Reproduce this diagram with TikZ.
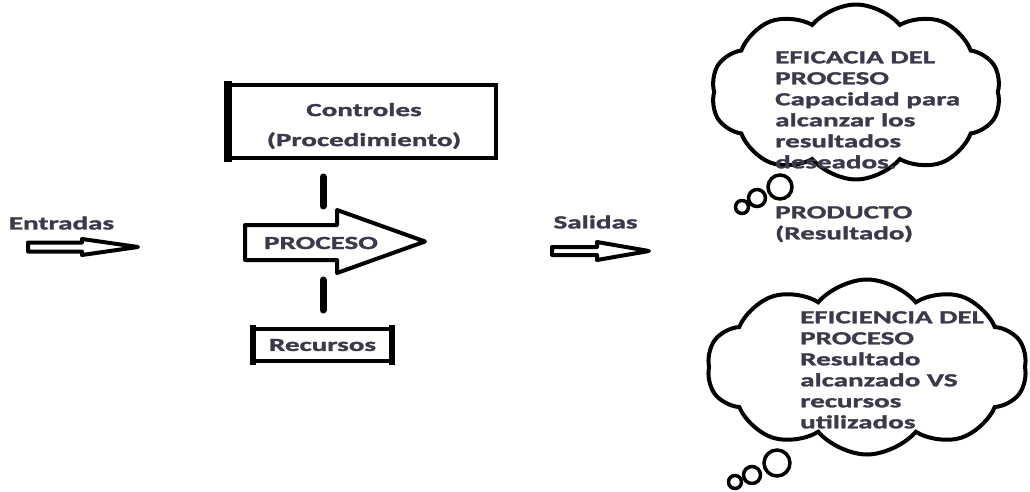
\documentclass[tikz,border=0pt]{standalone}
\usepackage{fontspec}
\newfontfamily\lblfont{Carlito}[FakeStretch=1.57, FakeBold=1.6]
\usetikzlibrary{shapes.symbols}
\definecolor{ink}{HTML}{3A3A4C}
\begin{document}
\begin{tikzpicture}[x=1pt,y=-1pt,
  lbl/.style={font=\lblfont\bfseries\fontsize{18.5}{21}\selectfont, text=ink, inner sep=0pt},
  outline/.style={draw=black, line width=4pt, line join=round, fill=white},
  framebox/.style={draw=black, line width=4pt},
  bar/.style={line width=7pt, line cap=round},
  thought/.style={cloud, cloud puffs=10, cloud puff arc=100, cloud ignores aspect, draw=black, line width=4pt, fill=white, inner sep=0pt},
  puff/.style={draw=black, line width=3.5pt, fill=white}]
\useasboundingbox[fill=white] (0,0) rectangle (1030,492);

% inputs
\node[lbl] (entradas) at (61.5,223) {Entradas};
\draw[outline] (28,242.5) -- (82,242.5) -- (82,239) -- (138,247) -- (82,255) -- (82,251.5) -- (28,251.5) -- cycle;

% controls box
\node[framebox, minimum width=268pt, minimum height=73pt] (ctrl) at (362,121.5) {};
\fill ([xshift=-2pt,yshift=2pt]ctrl.north west) rectangle ([xshift=6pt,yshift=-2pt]ctrl.south west);
\node[lbl, align=center] (ctrltext) at (364,126) {Controles\\[9pt](Procedimiento)};

% process arrow
\draw[outline] (245,225) -- (337,225) -- (337,210) -- (425,241.5) -- (337,273) -- (337,260) -- (245,260) -- cycle;
\node[lbl] (proceso) at (321,243) {PROCESO};

% control and resource bars
\draw[bar] (323,177) -- (323,206);
\draw[bar] (323,280) -- (323,310);

% resources box
\node[framebox, lbl, minimum width=137pt, minimum height=32pt] (rec) at (322.5,345) {Recursos};
\fill ([xshift=-2pt,yshift=2pt]rec.north west) rectangle ([xshift=4pt,yshift=-2pt]rec.south west);
\fill ([xshift=-4pt,yshift=2pt]rec.north east) rectangle ([xshift=2pt,yshift=-2pt]rec.south east);

% outputs
\node[lbl] (salidas) at (595.5,222) {Salidas};
\draw[outline] (552,247) -- (597,247) -- (597,242) -- (649,251) -- (597,260) -- (597,255) -- (552,255) -- cycle;

% effectiveness thought
\node[thought, minimum width=290pt, minimum height=175pt] (eficacia) at (856,92) {};
\draw[puff] (780,187) circle (12);
\draw[puff] (757,198) circle (8.5);
\draw[puff] (742,207) circle (6.5);
\node[lbl, align=left, anchor=north west] (eftext) at (775,51) {EFICACIA DEL\\PROCESO\\Capacidad para\\alcanzar los\\resultados\\deseados.};

% product
\node[lbl, align=left, anchor=north west] (producto) at (775,206) {PRODUCTO\\(Resultado)};

% efficiency thought
\node[thought, minimum width=320pt, minimum height=175pt] (eficiencia) at (867,367) {};
\draw[puff] (777,463) circle (13);
\draw[puff] (752,475) circle (8.5);
\draw[puff] (735,482) circle (6.5);
\node[lbl, align=left, anchor=north west] (eitext) at (800,311) {EFICIENCIA DEL\\PROCESO\\Resultado\\alcanzado VS\\recursos\\utilizados};
\end{tikzpicture}
\end{document}
